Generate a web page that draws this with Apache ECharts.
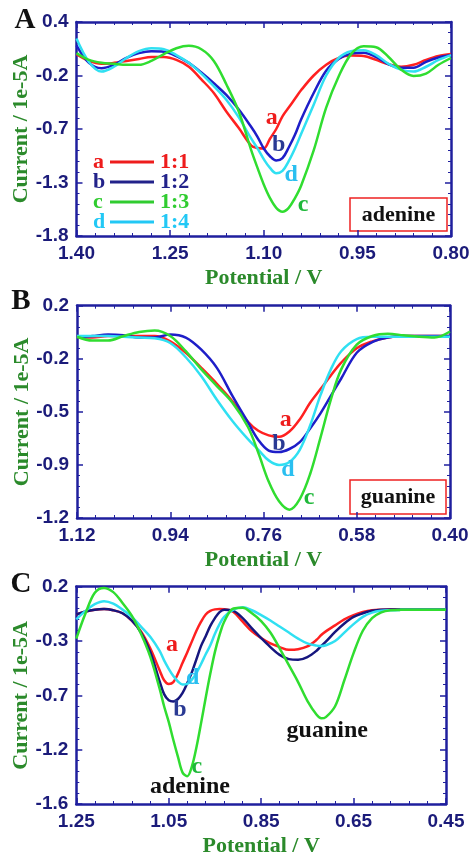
<!DOCTYPE html>
<html>
<head>
<meta charset="utf-8">
<script src="https://cdn.jsdelivr.net/npm/echarts@6/dist/echarts.min.js"></script>
<style>
  html, body { margin: 0; padding: 0; background: #ffffff; }
  #chart { width: 471px; height: 857px; }
</style>
</head>
<body>
<div id="chart"></div>
<script>
// ---- Panel A: adenine, DPV at different ratios ----
const potentialA = [1.40,1.38,1.36,1.34,1.32,1.30,1.28,1.26,1.24,1.22,1.20,1.18,1.16,1.14,1.12,1.11,1.10,1.09,1.08,1.07,1.06,1.05,1.04,1.02,1.00,0.98,0.96,0.94,0.92,0.90,0.88,0.86,0.84,0.82,0.80];
const currentA_a = [0.07,0.0,-0.03,-0.02,0.0,0.02,0.04,0.04,0.01,-0.06,-0.19,-0.33,-0.52,-0.69,-0.87,-0.895,-0.90,-0.80,-0.70,-0.57,-0.48,-0.39,-0.30,-0.15,-0.04,0.03,0.055,0.05,0.01,-0.035,-0.06,-0.04,0.01,0.05,0.07];
const currentA_b = [0.16,-0.02,-0.075,-0.04,0.03,0.08,0.10,0.095,0.05,-0.02,-0.12,-0.23,-0.35,-0.50,-0.68,-0.78,-0.90,-0.98,-1.025,-1.00,-0.89,-0.76,-0.60,-0.33,-0.10,0.02,0.075,0.085,0.04,-0.035,-0.07,-0.07,-0.01,0.035,0.06];
const currentA_c = [0.08,0.01,-0.02,-0.03,-0.04,-0.04,0.0,0.07,0.13,0.155,0.12,0.0,-0.24,-0.52,-0.92,-1.10,-1.27,-1.41,-1.51,-1.55,-1.51,-1.41,-1.28,-0.92,-0.48,-0.16,0.07,0.15,0.14,0.04,-0.09,-0.155,-0.13,-0.04,0.03];
const currentA_d = [0.23,-0.01,-0.11,-0.06,0.03,0.10,0.13,0.12,0.06,-0.02,-0.13,-0.26,-0.40,-0.58,-0.80,-0.90,-1.01,-1.10,-1.155,-1.13,-1.03,-0.90,-0.75,-0.45,-0.15,0.03,0.10,0.11,0.06,-0.03,-0.09,-0.11,-0.06,0.01,0.06];
const xTicksA = [1.40, 1.25, 1.10, 0.95, 0.80];
const xLabelsA = ['1.40', '1.25', '1.10', '0.95', '0.80'];
const yTicksA = [0.4, -0.15, -0.7, -1.25, -1.8];
const yLabelsA = ['0.4', '-0.2', '-0.7', '-1.3', '-1.8'];

// ---- Panel B: guanine ----
const potentialB = [1.12,1.09,1.06,1.03,1.00,0.97,0.94,0.91,0.88,0.85,0.82,0.79,0.77,0.75,0.73,0.71,0.69,0.67,0.65,0.63,0.61,0.58,0.55,0.52,0.49,0.46,0.43,0.40];
const currentB_a = [-0.01,-0.01,0.0,0.0,0.0,0.0,-0.035,-0.11,-0.21,-0.315,-0.43,-0.565,-0.625,-0.655,-0.665,-0.63,-0.55,-0.44,-0.35,-0.26,-0.175,-0.08,-0.035,-0.01,0.0,0.0,0.0,0.0];
const currentB_b = [-0.01,0.0,0.01,0.005,-0.01,-0.01,0.01,-0.01,-0.09,-0.21,-0.395,-0.57,-0.685,-0.755,-0.765,-0.745,-0.70,-0.61,-0.51,-0.395,-0.28,-0.11,-0.04,-0.01,0.0,0.0,0.0,0.0];
const currentB_c = [-0.005,-0.03,-0.03,0.0,0.027,0.037,0.0,-0.10,-0.22,-0.33,-0.44,-0.60,-0.77,-0.96,-1.09,-1.145,-1.075,-0.91,-0.67,-0.42,-0.22,-0.057,0.0,0.015,0.005,-0.005,-0.01,0.03];
const currentB_d = [0.0,0.0,0.0,-0.005,-0.01,-0.015,-0.046,-0.14,-0.265,-0.42,-0.56,-0.68,-0.75,-0.82,-0.85,-0.83,-0.75,-0.59,-0.39,-0.22,-0.10,-0.02,-0.005,-0.005,-0.005,-0.005,-0.005,-0.005];
const xTicksB = [1.12, 0.94, 0.76, 0.58, 0.40];
const xLabelsB = ['1.12', '0.94', '0.76', '0.58', '0.40'];
const yTicksB = [0.2, -0.15, -0.5, -0.85, -1.2];
const yLabelsB = ['0.2', '-0.2', '-0.5', '-0.9', '-1.2'];

// ---- Panel C: adenine + guanine mixture ----
const potentialC = [1.25,1.23,1.21,1.19,1.17,1.15,1.13,1.11,1.09,1.07,1.06,1.05,1.04,1.03,1.02,1.01,1.00,0.99,0.98,0.97,0.96,0.95,0.94,0.93,0.91,0.89,0.87,0.85,0.83,0.81,0.79,0.77,0.75,0.73,0.72,0.71,0.69,0.67,0.65,0.63,0.61,0.59,0.57,0.55,0.52,0.49,0.45];
const currentC_a = [-0.03,-0.005,0.01,0.015,0.005,-0.02,-0.08,-0.17,-0.31,-0.49,-0.575,-0.605,-0.59,-0.52,-0.43,-0.345,-0.255,-0.165,-0.09,-0.03,0.0,0.012,0.015,0.013,-0.01,-0.09,-0.17,-0.225,-0.27,-0.30,-0.323,-0.318,-0.295,-0.24,-0.20,-0.17,-0.12,-0.07,-0.035,-0.01,0.005,0.01,0.012,0.012,0.012,0.012,0.012];
const currentC_b = [-0.03,-0.005,0.01,0.015,0.005,-0.02,-0.08,-0.18,-0.34,-0.58,-0.69,-0.74,-0.75,-0.73,-0.68,-0.60,-0.51,-0.40,-0.29,-0.21,-0.125,-0.06,-0.01,0.01,0.0,-0.06,-0.145,-0.225,-0.30,-0.365,-0.40,-0.405,-0.383,-0.33,-0.29,-0.255,-0.175,-0.105,-0.05,-0.02,0.0,0.01,0.012,0.012,0.012,0.012,0.012];
const currentC_c = [-0.23,-0.02,0.15,0.19,0.155,0.065,-0.04,-0.19,-0.38,-0.64,-0.79,-0.92,-1.07,-1.21,-1.34,-1.37,-1.29,-1.13,-0.93,-0.72,-0.52,-0.34,-0.20,-0.09,0.02,0.025,-0.02,-0.085,-0.18,-0.31,-0.45,-0.59,-0.745,-0.86,-0.89,-0.88,-0.79,-0.575,-0.35,-0.165,-0.06,-0.012,0.005,0.008,0.01,0.01,0.01];
const currentC_d = [-0.07,0.0,0.055,0.08,0.06,0.01,-0.05,-0.13,-0.215,-0.33,-0.41,-0.48,-0.54,-0.585,-0.61,-0.605,-0.57,-0.515,-0.44,-0.36,-0.285,-0.19,-0.11,-0.05,0.01,0.03,0.005,-0.035,-0.08,-0.13,-0.18,-0.23,-0.27,-0.288,-0.292,-0.285,-0.25,-0.18,-0.11,-0.05,-0.015,0.0,0.005,0.008,0.01,0.01,0.01];
const xTicksC = [1.25, 1.05, 0.85, 0.65, 0.45];
const xLabelsC = ['1.25', '1.05', '0.85', '0.65', '0.45'];
const yTicksC = [0.2, -0.25, -0.7, -1.15, -1.6];
const yLabelsC = ['0.2', '-0.3', '-0.7', '-1.2', '-1.6'];

// ---- Legend entries ----
const curveNames = ['a', 'b', 'c', 'd'];
const ratios = ['1:1', '1:2', '1:3', '1:4'];

// ---- Styling ----
const AXIS = '#1f1f9e';
const TICK_TEXT = '#1b1b7a';
const TITLE = '#2b8a2b';
const SERIF = '"Liberation Serif", "Times New Roman", serif';
const SANS = '"Liberation Sans", Arial, sans-serif';
const lineColorsAB = ['#ff2020', '#1e1ec8', '#30dd30', '#30e0f2'];
const lineColorsC = ['#ff2020', '#16167e', '#30dd30', '#30e0f2'];
const letterColors = ['#ee1c1c', '#2a3a94', '#1fb83a', '#2abff0'];
const legendColors = ['#ee1c1c', '#22228a', '#30cc30', '#22c8f5'];

// fixed plot rectangles; labels may reach the canvas edge without shrinking the grid
const grids = [
  { left: 76.5, top: 22, width: 374.5, height: 214, outerBoundsMode: 'none', containLabel: false },
  { left: 77, top: 305.7, width: 373, height: 212.3, outerBoundsMode: 'none', containLabel: false },
  { left: 76.3, top: 586.7, width: 369.7, height: 217.3, outerBoundsMode: 'none', containLabel: false }
];

function nearestLabel(ticks, labels) {
  return function (v) {
    let k = 0;
    ticks.forEach((t, i) => { if (Math.abs(t - v) < Math.abs(ticks[k] - v)) k = i; });
    return labels[k];
  };
}

function valueAxis(gridIndex, ticks, labels, extra) {
  const min = Math.min(...ticks);
  const max = Math.max(...ticks);
  const interval = +((max - min) / (ticks.length - 1)).toFixed(6);
  return Object.assign({
    type: 'value', gridIndex, min, max, interval,
    axisLine: { show: true, onZero: false, lineStyle: { color: AXIS, width: 2.5 } },
    axisTick: { show: true, inside: true, length: 6, lineStyle: { color: AXIS, width: 1.5 } },
    minorTick: { show: true, splitNumber: 5, length: 3, lineStyle: { color: AXIS, width: 1 } },
    splitLine: { show: false },
    minorSplitLine: { show: false },
    axisLabel: {
      show: true, showMinLabel: true, showMaxLabel: true,
      color: TICK_TEXT, fontFamily: SANS, fontWeight: 'bold', fontSize: 19, margin: 8,
      formatter: nearestLabel(ticks, labels)
    }
  }, extra || {});
}

const nameStyle = { color: TITLE, fontFamily: SERIF, fontWeight: 'bold', fontSize: 22 };

const panels = [
  { pot: potentialA, cur: [currentA_a, currentA_b, currentA_c, currentA_d], xt: xTicksA, xl: xLabelsA, yt: yTicksA, yl: yLabelsA, colors: lineColorsAB,
    letters: [[1.087, -0.587], [1.076, -0.865], [1.037, -1.481], [1.056, -1.173]], extra: [] },
  { pot: potentialB, cur: [currentB_a, currentB_b, currentB_c, currentB_d], xt: xTicksB, xl: xLabelsB, yt: yTicksB, yl: yLabelsB, colors: lineColorsAB,
    letters: [[0.717, -0.554], [0.730, -0.712], [0.672, -1.068], [0.713, -0.884]], extra: [] },
  { pot: potentialC, cur: [currentC_a, currentC_b, currentC_c, currentC_d], xt: xTicksC, xl: xLabelsC, yt: yTicksC, yl: yLabelsC, colors: lineColorsC,
    letters: [[1.043, -0.283], [1.026, -0.822], [0.989, -1.294], [0.998, -0.556]],
    extra: [ { coord: [1.004, -1.46], text: 'adenine' }, { coord: [0.707, -0.996], text: 'guanine' } ] }
];

const xAxes = [], yAxes = [], series = [];
panels.forEach((p, g) => {
  xAxes.push(valueAxis(g, p.xt, p.xl, {
    inverse: true, position: 'bottom',
    name: 'Potential / V', nameLocation: 'middle', nameGap: 31, nameMoveOverlap: false, nameTextStyle: nameStyle
  }));
  xAxes.push(valueAxis(g, p.xt, p.xl, { inverse: true, position: 'top', axisLabel: { show: false } }));
  yAxes.push(valueAxis(g, p.yt, p.yl, {
    position: 'left',
    name: 'Current / 1e-5A', nameLocation: 'middle', nameGap: 44, nameRotate: 90, nameMoveOverlap: false, nameTextStyle: nameStyle
  }));
  yAxes.push(valueAxis(g, p.yt, p.yl, { position: 'right', axisLabel: { show: false } }));

  // draw order: a, b, d, c (c on top)
  [0, 1, 3, 2].forEach(i => {
    const mp = [{
      coord: p.letters[i],
      label: { formatter: curveNames[i], color: letterColors[i] }
    }];
    if (i === 2) {
      p.extra.forEach(e => mp.push({ coord: e.coord, label: { formatter: e.text, color: '#111111' } }));
    }
    series.push({
      name: curveNames[i],
      type: 'line',
      xAxisIndex: 2 * g,
      yAxisIndex: 2 * g,
      data: p.pot.map((v, k) => [v, p.cur[i][k]]),
      smooth: 0.35,
      symbol: 'none',
      lineStyle: { color: p.colors[i], width: 2.5 },
      itemStyle: { color: p.colors[i] },
      markPoint: {
        symbol: 'circle', symbolSize: 1, silent: true,
        itemStyle: { color: 'rgba(0,0,0,0)' },
        label: { show: true, position: 'inside', fontFamily: SERIF, fontWeight: 'bold', fontSize: 24 },
        data: mp
      }
    });
  });
});

// legend rich styles: letter, swatch line, ratio
const rich = { g: { width: 6, fontSize: 2, lineHeight: 20.5 } };
curveNames.forEach((n, i) => {
  rich['t' + i] = { color: legendColors[i], fontFamily: SERIF, fontWeight: 'bold', fontSize: 22, lineHeight: 20.5 };
  rich['k' + i] = { color: legendColors[i], fontFamily: SERIF, fontWeight: 'bold', fontSize: 22, lineHeight: 20.5, width: 17 };
  rich['l' + i] = { width: 44, height: 3, fontSize: 2, backgroundColor: legendColors[i] };
});

const chart = echarts.init(document.getElementById('chart'), null, { renderer: 'canvas' });
chart.setOption({
  backgroundColor: '#ffffff',
  animation: false,
  grid: grids,
  xAxis: xAxes,
  yAxis: yAxes,
  series: series,
  legend: {
    data: curveNames,
    orient: 'vertical',
    left: 83, top: 146,
    icon: 'none', itemWidth: 0, itemHeight: 0, itemGap: -2,
    selectedMode: false,
    formatter: function (name) {
      const i = curveNames.indexOf(name);
      return '{k' + i + '|' + name + '}{l' + i + '|\u00a0}{g|\u00a0}{t' + i + '|' + ratios[i] + '}';
    },
    textStyle: { lineHeight: 20.5, rich: rich }
  },
  graphic: [
    { type: 'text', style: { text: 'A', x: 25, y: 21, align: 'center', verticalAlign: 'middle', font: 'bold 29px ' + SERIF, fill: '#111111' } },
    { type: 'text', style: { text: 'B', x: 21, y: 302, align: 'center', verticalAlign: 'middle', font: 'bold 29px ' + SERIF, fill: '#111111' } },
    { type: 'text', style: { text: 'C', x: 21, y: 585, align: 'center', verticalAlign: 'middle', font: 'bold 29px ' + SERIF, fill: '#111111' } },
    { type: 'rect', shape: { x: 350, y: 198, width: 97, height: 33 }, style: { fill: '#ffffff', stroke: '#ee2222', lineWidth: 1.5 } },
    { type: 'text', style: { text: 'adenine', x: 398.5, y: 215, align: 'center', verticalAlign: 'middle', font: 'bold 22px ' + SERIF, fill: '#111111' } },
    { type: 'rect', shape: { x: 350, y: 480, width: 96, height: 34 }, style: { fill: '#ffffff', stroke: '#ee2222', lineWidth: 1.5 } },
    { type: 'text', style: { text: 'guanine', x: 398, y: 497, align: 'center', verticalAlign: 'middle', font: 'bold 22px ' + SERIF, fill: '#111111' } }
  ]
});
</script>
</body>
</html>
